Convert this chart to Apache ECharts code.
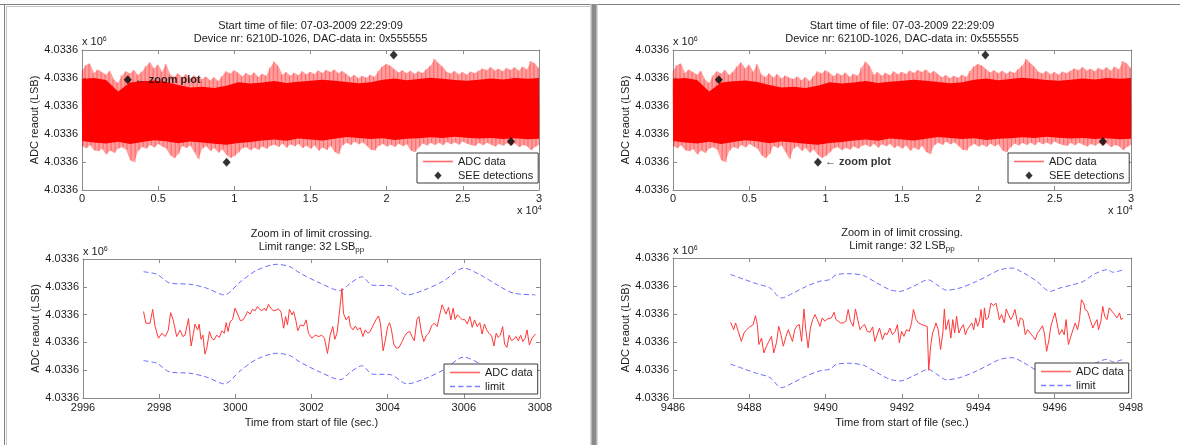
<!DOCTYPE html>
<html>
<head>
<meta charset="utf-8">
<script src="https://cdn.jsdelivr.net/npm/echarts@6/dist/echarts.min.js"></script>
<style>
  html, body { margin: 0; padding: 0; background: #ffffff; }
  #chart { width: 1180px; height: 445px; }
</style>
</head>
<body>
<div id="chart"></div>
<script>
// ---------------------------------------------------------------------------
// Data
// ---------------------------------------------------------------------------

// Length of the recorded file (s)
const OVERVIEW_SPAN = 30000;

// Peak-to-peak width of the limit band around the running mean (LSB)
const LIMIT_RANGE = 32;

// SEE detections: time (s) and ADC readout (LSB)
const seeTimes  = [3002.8, 9492.7, 20460, 28160];
const seeValues = [4033609.4, 4033579.9, 4033618.2, 4033587.3];

// Overview of the ADC readout, per equal-width time bin over the file:
// highest and lowest sample in each bin
const overviewHigh = [
  4033612.5, 4033614.6, 4033615.2, 4033611.8, 4033613.0, 4033612.1, 4033611.2, 4033612.6, 4033609.5, 4033608.2,
  4033611.0, 4033612.4, 4033611.6, 4033612.9, 4033611.1, 4033612.3, 4033614.2, 4033615.6, 4033613.4, 4033614.8,
  4033612.2, 4033615.1, 4033611.3, 4033610.4, 4033611.7, 4033610.2, 4033611.4, 4033609.8, 4033610.9, 4033610.1,
  4033609.6, 4033610.5, 4033609.2, 4033610.3, 4033608.9, 4033610.7, 4033612.4, 4033611.6, 4033612.8, 4033611.9,
  4033610.6, 4033611.8, 4033610.9, 4033612.0, 4033610.4, 4033611.5, 4033610.8, 4033613.8, 4033615.9, 4033614.3,
  4033611.2, 4033612.1, 4033610.8, 4033611.9, 4033611.0, 4033612.4, 4033611.3, 4033612.2, 4033611.4, 4033612.7,
  4033611.8, 4033612.9, 4033612.1, 4033613.0, 4033611.7, 4033612.5, 4033611.4, 4033610.3, 4033611.1, 4033609.9,
  4033610.8, 4033610.1, 4033611.2, 4033610.4, 4033612.6, 4033614.2, 4033615.0, 4033614.4, 4033613.1, 4033612.0,
  4033612.8, 4033611.7, 4033612.6, 4033611.5, 4033612.4, 4033611.8, 4033613.2, 4033614.5, 4033616.9, 4033615.3,
  4033614.0, 4033612.2, 4033611.6, 4033612.5, 4033611.3, 4033612.1, 4033611.2, 4033612.3, 4033611.7, 4033612.6,
  4033613.4, 4033612.8, 4033613.9, 4033612.7, 4033613.3, 4033612.4, 4033613.6, 4033612.9, 4033613.8, 4033612.6,
  4033614.1, 4033613.0, 4033616.1, 4033615.2, 4033613.5
];
const overviewLow = [
  4033585.7, 4033584.9, 4033586.0, 4033584.2, 4033583.8, 4033584.6, 4033582.7, 4033584.1, 4033583.2, 4033584.8,
  4033585.3, 4033584.4, 4033580.6, 4033579.9, 4033584.0, 4033585.4, 4033584.7, 4033586.1, 4033585.2, 4033586.4,
  4033585.5, 4033584.8, 4033582.4, 4033581.3, 4033582.8, 4033585.7, 4033585.0, 4033585.9, 4033583.5, 4033581.0,
  4033584.8, 4033585.6, 4033583.9, 4033585.0, 4033583.3, 4033584.5, 4033582.6, 4033581.4, 4033582.1, 4033583.4,
  4033584.9, 4033585.3, 4033584.2, 4033585.1, 4033584.4, 4033585.5, 4033584.7, 4033585.8, 4033586.2, 4033585.4,
  4033586.5, 4033585.1, 4033586.3, 4033585.6, 4033586.4, 4033585.0, 4033585.8, 4033584.7, 4033585.9, 4033584.0,
  4033585.2, 4033584.3, 4033585.7, 4033583.6, 4033582.8, 4033586.0, 4033586.9, 4033586.1, 4033587.2, 4033586.3,
  4033587.0, 4033585.8, 4033584.4, 4033584.1, 4033585.7, 4033586.4, 4033585.5, 4033586.2, 4033585.4, 4033586.5,
  4033585.6, 4033586.3, 4033584.1, 4033583.5, 4033585.2, 4033586.6, 4033585.9, 4033586.8, 4033586.1, 4033586.9,
  4033586.0, 4033587.1, 4033586.3, 4033587.0, 4033586.2, 4033587.3, 4033586.5, 4033586.1, 4033585.7, 4033586.8,
  4033586.0, 4033586.9, 4033586.2, 4033585.5, 4033586.4, 4033585.8, 4033586.7, 4033585.9, 4033586.6, 4033585.3,
  4033586.1, 4033585.6, 4033584.2, 4033585.4, 4033586.2
];

// Range that holds the bulk of the samples, per coarser equal-width bin
const coreHigh = [
  4033609.6, 4033610.0, 4033609.3, 4033605.2, 4033608.4, 4033608.8, 4033609.1, 4033608.6, 4033607.5, 4033606.6,
  4033606.9, 4033606.4, 4033607.2, 4033608.5, 4033608.0, 4033608.4, 4033608.9, 4033608.2, 4033608.7, 4033609.0,
  4033609.4, 4033609.0, 4033608.6, 4033608.1, 4033608.5, 4033609.4, 4033609.8, 4033609.2, 4033609.6, 4033610.1,
  4033609.7, 4033609.3, 4033609.0, 4033609.4, 4033609.8, 4033609.5, 4033610.0, 4033609.7, 4033609.9
];
const coreLow = [
  4033587.5, 4033587.0, 4033586.6, 4033587.2, 4033586.4, 4033587.1, 4033587.8, 4033587.4, 4033586.7, 4033587.3,
  4033587.0, 4033586.5, 4033586.2, 4033586.8, 4033587.1, 4033587.7, 4033588.0, 4033587.6, 4033588.4, 4033588.0,
  4033587.7, 4033588.3, 4033588.9, 4033588.6, 4033588.2, 4033588.5, 4033587.9, 4033588.3, 4033588.5, 4033588.8,
  4033588.6, 4033589.0, 4033588.7, 4033588.4, 4033588.6, 4033588.2, 4033588.5, 4033588.1, 4033588.3
];

// Zoom around the first detection: [time (s), ADC readout (LSB)]
const zoomA_adc = [
  [2997.59, 4033601.1], [2997.65, 4033596.9], [2997.76, 4033596.9], [2997.83, 4033601.9], [2997.89, 4033595.9],
  [2997.98, 4033591.5], [2998.07, 4033593.3], [2998.16, 4033592.1], [2998.24, 4033594.4], [2998.30, 4033600.7],
  [2998.37, 4033598.0], [2998.46, 4033592.1], [2998.55, 4033594.4], [2998.62, 4033592.1], [2998.68, 4033592.6],
  [2998.77, 4033598.6], [2998.84, 4033588.7], [2998.90, 4033593.3], [2998.94, 4033596.6], [2999.01, 4033594.5],
  [2999.05, 4033596.6], [2999.10, 4033591.1], [2999.15, 4033592.6], [2999.20, 4033585.8], [2999.25, 4033587.9],
  [2999.32, 4033593.9], [2999.38, 4033591.5], [2999.44, 4033590.9], [2999.51, 4033592.6], [2999.58, 4033591.8],
  [2999.65, 4033594.2], [2999.71, 4033593.3], [2999.76, 4033597.1], [2999.81, 4033593.9], [2999.86, 4033597.4],
  [2999.93, 4033598.3], [2999.99, 4033602.3], [3000.06, 4033600.2], [3000.13, 4033597.8], [3000.20, 4033598.1],
  [3000.26, 4033599.3], [3000.32, 4033601.1], [3000.39, 4033600.2], [3000.45, 4033601.9], [3000.52, 4033601.4],
  [3000.58, 4033602.9], [3000.64, 4033601.9], [3000.70, 4033601.4], [3000.76, 4033602.3], [3000.81, 4033601.4],
  [3000.87, 4033603.7], [3000.93, 4033602.3], [3001.00, 4033601.4], [3001.07, 4033601.6], [3001.13, 4033602.1],
  [3001.20, 4033600.9], [3001.27, 4033595.1], [3001.32, 4033599.3], [3001.37, 4033596.3], [3001.42, 4033601.9],
  [3001.49, 4033599.9], [3001.53, 4033601.1], [3001.59, 4033597.8], [3001.64, 4033594.2], [3001.71, 4033596.3],
  [3001.79, 4033595.9], [3001.86, 4033598.1], [3001.92, 4033593.3], [3002.01, 4033591.5], [3002.10, 4033592.6],
  [3002.19, 4033592.1], [3002.27, 4033592.6], [3002.34, 4033591.5], [3002.42, 4033586.0], [3002.49, 4033592.6],
  [3002.56, 4033595.7], [3002.61, 4033591.1], [3002.67, 4033593.3], [3002.74, 4033601.7], [3002.80, 4033609.4],
  [3002.84, 4033600.4], [3002.91, 4033598.1], [3002.98, 4033599.5], [3003.02, 4033595.7], [3003.09, 4033594.5],
  [3003.15, 4033595.9], [3003.21, 4033594.5], [3003.28, 4033595.3], [3003.35, 4033592.1], [3003.41, 4033594.5],
  [3003.48, 4033593.3], [3003.54, 4033593.9], [3003.61, 4033595.9], [3003.69, 4033598.1], [3003.76, 4033599.5],
  [3003.81, 4033596.9], [3003.88, 4033587.0], [3003.94, 4033590.9], [3004.00, 4033595.7], [3004.05, 4033597.1],
  [3004.10, 4033594.5], [3004.16, 4033589.4], [3004.23, 4033587.9], [3004.30, 4033588.2], [3004.38, 4033590.3],
  [3004.44, 4033592.1], [3004.51, 4033593.5], [3004.58, 4033593.9], [3004.64, 4033592.1], [3004.70, 4033590.6],
  [3004.77, 4033598.3], [3004.82, 4033599.3], [3004.89, 4033593.3], [3004.95, 4033590.3], [3005.02, 4033592.6],
  [3005.09, 4033593.5], [3005.15, 4033595.9], [3005.22, 4033596.9], [3005.30, 4033595.7], [3005.36, 4033599.5],
  [3005.43, 4033603.5], [3005.48, 4033601.9], [3005.53, 4033600.2], [3005.60, 4033602.6], [3005.66, 4033598.1],
  [3005.72, 4033602.3], [3005.77, 4033598.3], [3005.83, 4033599.9], [3005.90, 4033599.0], [3005.96, 4033598.1],
  [3006.02, 4033598.3], [3006.09, 4033596.6], [3006.16, 4033599.3], [3006.22, 4033595.4], [3006.28, 4033598.1],
  [3006.35, 4033595.7], [3006.42, 4033597.1], [3006.48, 4033593.0], [3006.54, 4033596.6], [3006.60, 4033594.5],
  [3006.66, 4033593.3], [3006.73, 4033592.3], [3006.79, 4033588.7], [3006.85, 4033593.3], [3006.90, 4033591.8],
  [3006.96, 4033592.6], [3007.02, 4033595.7], [3007.07, 4033589.4], [3007.13, 4033588.2], [3007.19, 4033592.6],
  [3007.25, 4033590.6], [3007.31, 4033591.1], [3007.37, 4033592.1], [3007.43, 4033590.6], [3007.49, 4033592.6],
  [3007.55, 4033590.3], [3007.61, 4033591.5], [3007.66, 4033594.5], [3007.72, 4033589.1], [3007.79, 4033591.5],
  [3007.88, 4033593.0]
];
// Running mean that the limit band is centred on: [time (s), LSB]
const zoomA_limitCenter = [
  [2997.59, 4033599.4], [2997.94, 4033598.5], [2998.29, 4033595.3], [2998.81, 4033594.9], [2999.25, 4033593.5],
  [2999.71, 4033591.1], [3000.13, 4033595.8], [3000.57, 4033600.0], [3001.09, 4033602.1], [3001.44, 4033601.2],
  [3001.70, 4033598.9], [3002.23, 4033595.3], [3002.76, 4033592.6], [3003.02, 4033595.3], [3003.33, 4033597.6],
  [3003.59, 4033594.6], [3004.07, 4033594.4], [3004.51, 4033591.1], [3004.95, 4033592.8], [3005.47, 4033596.1],
  [3006.00, 4033600.7], [3006.44, 4033598.2], [3006.96, 4033594.0], [3007.31, 4033591.7], [3007.88, 4033591.1]
];

// Zoom around the second detection
const zoomB_adc = [
  [9487.51, 4033597.0], [9487.59, 4033594.4], [9487.64, 4033596.8], [9487.71, 4033593.8], [9487.79, 4033590.2],
  [9487.86, 4033593.2], [9487.93, 4033594.4], [9488.01, 4033595.4], [9488.10, 4033596.2], [9488.16, 4033599.4],
  [9488.21, 4033596.2], [9488.25, 4033589.1], [9488.32, 4033591.4], [9488.38, 4033586.1], [9488.45, 4033588.5],
  [9488.51, 4033590.2], [9488.58, 4033592.0], [9488.64, 4033586.1], [9488.71, 4033589.7], [9488.77, 4033595.6],
  [9488.83, 4033592.6], [9488.89, 4033588.5], [9488.96, 4033592.0], [9489.02, 4033594.4], [9489.06, 4033595.0],
  [9489.13, 4033590.2], [9489.19, 4033594.4], [9489.25, 4033595.8], [9489.31, 4033596.2], [9489.37, 4033590.2],
  [9489.43, 4033601.8], [9489.48, 4033594.4], [9489.54, 4033587.9], [9489.60, 4033595.0], [9489.66, 4033598.0],
  [9489.72, 4033599.8], [9489.78, 4033598.0], [9489.85, 4033595.6], [9489.91, 4033598.6], [9489.98, 4033597.4],
  [9490.04, 4033598.2], [9490.09, 4033598.0], [9490.15, 4033598.6], [9490.22, 4033600.6], [9490.27, 4033598.0],
  [9490.33, 4033597.4], [9490.39, 4033596.8], [9490.46, 4033596.8], [9490.53, 4033597.4], [9490.59, 4033601.6],
  [9490.65, 4033597.4], [9490.72, 4033595.6], [9490.78, 4033601.8], [9490.84, 4033598.0], [9490.90, 4033594.4],
  [9490.96, 4033595.6], [9491.02, 4033596.2], [9491.09, 4033593.8], [9491.16, 4033593.5], [9491.23, 4033595.4],
  [9491.29, 4033590.2], [9491.35, 4033592.6], [9491.41, 4033595.0], [9491.49, 4033590.8], [9491.55, 4033593.2],
  [9491.61, 4033592.6], [9491.68, 4033595.0], [9491.75, 4033592.6], [9491.82, 4033593.8], [9491.88, 4033596.2],
  [9491.93, 4033589.7], [9491.99, 4033593.8], [9492.05, 4033592.0], [9492.12, 4033594.4], [9492.19, 4033593.8],
  [9492.25, 4033596.8], [9492.30, 4033601.6], [9492.37, 4033598.0], [9492.43, 4033596.8], [9492.52, 4033596.2],
  [9492.60, 4033595.8], [9492.66, 4033595.6], [9492.70, 4033579.9], [9492.75, 4033588.5], [9492.80, 4033593.2],
  [9492.85, 4033595.0], [9492.89, 4033596.8], [9492.95, 4033594.4], [9493.01, 4033587.3], [9493.07, 4033593.2],
  [9493.11, 4033601.8], [9493.15, 4033594.4], [9493.22, 4033598.0], [9493.28, 4033591.4], [9493.33, 4033598.0],
  [9493.38, 4033593.2], [9493.43, 4033599.2], [9493.49, 4033593.2], [9493.55, 4033595.0], [9493.61, 4033596.2],
  [9493.66, 4033592.6], [9493.71, 4033594.4], [9493.77, 4033595.6], [9493.83, 4033596.8], [9493.88, 4033594.4],
  [9493.93, 4033598.6], [9493.98, 4033595.6], [9494.03, 4033597.4], [9494.07, 4033601.6], [9494.12, 4033595.0],
  [9494.16, 4033602.2], [9494.20, 4033598.0], [9494.26, 4033598.6], [9494.33, 4033603.9], [9494.40, 4033603.0],
  [9494.46, 4033603.9], [9494.51, 4033601.0], [9494.55, 4033598.0], [9494.61, 4033599.8], [9494.68, 4033596.8],
  [9494.73, 4033601.8], [9494.79, 4033599.8], [9494.85, 4033598.0], [9494.90, 4033599.2], [9494.96, 4033601.6],
  [9495.01, 4033598.0], [9495.05, 4033595.6], [9495.10, 4033598.6], [9495.17, 4033598.0], [9495.23, 4033592.6],
  [9495.29, 4033594.4], [9495.36, 4033593.2], [9495.43, 4033592.0], [9495.49, 4033590.8], [9495.55, 4033593.2],
  [9495.62, 4033594.4], [9495.68, 4033595.8], [9495.73, 4033593.2], [9495.79, 4033586.7], [9495.85, 4033590.8],
  [9495.90, 4033595.6], [9495.95, 4033598.0], [9496.01, 4033600.4], [9496.06, 4033596.8], [9496.12, 4033592.6],
  [9496.19, 4033594.4], [9496.25, 4033592.6], [9496.30, 4033598.0], [9496.36, 4033589.1], [9496.41, 4033591.4],
  [9496.48, 4033594.4], [9496.54, 4033596.8], [9496.60, 4033594.4], [9496.65, 4033598.0], [9496.70, 4033605.1],
  [9496.76, 4033603.9], [9496.80, 4033601.6], [9496.86, 4033601.0], [9496.93, 4033598.0], [9497.00, 4033595.0],
  [9497.06, 4033596.8], [9497.11, 4033598.0], [9497.15, 4033594.4], [9497.21, 4033597.4], [9497.26, 4033602.7],
  [9497.31, 4033599.2], [9497.37, 4033598.0], [9497.43, 4033602.2], [9497.50, 4033601.0], [9497.57, 4033599.8],
  [9497.63, 4033598.6], [9497.70, 4033600.4], [9497.74, 4033598.0], [9497.79, 4033598.6]
];
const zoomB_limitCenter = [
  [9487.51, 4033598.1], [9487.88, 4033596.3], [9488.19, 4033594.8], [9488.54, 4033593.3], [9488.84, 4033589.7],
  [9489.15, 4033591.5], [9489.50, 4033593.9], [9489.85, 4033595.7], [9490.11, 4033596.3], [9490.29, 4033598.1],
  [9490.64, 4033598.4], [9490.99, 4033597.7], [9491.34, 4033595.1], [9491.68, 4033592.7], [9491.95, 4033592.1],
  [9492.30, 4033593.9], [9492.69, 4033596.2], [9492.91, 4033594.5], [9493.17, 4033592.5], [9493.52, 4033593.3],
  [9493.96, 4033595.7], [9494.31, 4033598.1], [9494.57, 4033599.8], [9494.88, 4033600.4], [9495.18, 4033598.7],
  [9495.53, 4033595.7], [9495.88, 4033592.1], [9496.14, 4033593.3], [9496.49, 4033594.5], [9496.76, 4033595.7],
  [9497.02, 4033598.1], [9497.37, 4033599.8], [9497.54, 4033598.9], [9497.79, 4033599.8]
];

// Axis ranges and tick steps
const adcAxis      = { min: 4033570, max: 4033620, interval: 10 };
const overviewAxis = { min: 0, max: OVERVIEW_SPAN, interval: 5000 };
const zoomAAxis    = { min: 2996, max: 3008, interval: 2 };
const zoomBAxis    = { min: 9486, max: 9498, interval: 2 };

// Text
const headerLines = ['Start time of file: 07-03-2009 22:29:09', 'Device nr: 6210D-1026, DAC-data in: 0x555555'];
const zoomTitle   = 'Zoom in of limit crossing.';
const limitTitle  = 'Limit range: 32 LSB';
const yAxisName   = 'ADC reaout (LSB)';
const xAxisName   = 'Time from start of file (sec.)';

// ---------------------------------------------------------------------------
// Styling
// ---------------------------------------------------------------------------
const FONT = '"Liberation Sans", Arial, Helvetica, sans-serif';
const TEXT = '#1c1c1c';
const AXIS = '#8a8a8a';
const RED = '#ff0000';
const ZOOM_RED = '#ff3838';
const LIMIT_BLUE = '#6c6cff';

// Plot rectangles: overview left, zoom left, overview right, zoom right
const grids = [
  { left: 82,  top: 50,  width: 457, height: 140 },
  { left: 83,  top: 259, width: 457, height: 139 },
  { left: 673, top: 50,  width: 458, height: 140 },
  { left: 673, top: 258, width: 458, height: 140 }
];

const adcTick = v => (v / 1e6).toFixed(4);
const overviewTick = v => String(v / 10000);
const plainTick = v => String(v);

function xAxes(g, range, fmt, name, labelMargin) {
  const base = {
    type: 'value', gridIndex: g, min: range.min, max: range.max, interval: range.interval,
    splitLine: { show: false },
    axisLine: { show: true, onZero: false, lineStyle: { color: AXIS, width: 1 } },
    axisTick: { show: true, inside: true, length: 4, lineStyle: { color: AXIS } }
  };
  return [
    Object.assign({}, base, {
      position: 'bottom',
      axisLabel: { formatter: fmt, margin: labelMargin, color: TEXT, fontSize: 11, fontFamily: FONT,
                   showMinLabel: true, showMaxLabel: true },
      name: name || '', nameLocation: 'middle', nameGap: 19,
      nameTextStyle: { color: TEXT, fontSize: 11, fontFamily: FONT }
    }),
    Object.assign({}, base, { position: 'top', axisLabel: { show: false } })
  ];
}

function yAxes(g) {
  const base = {
    type: 'value', gridIndex: g, min: adcAxis.min, max: adcAxis.max, interval: adcAxis.interval,
    splitLine: { show: false },
    axisLine: { show: true, onZero: false, lineStyle: { color: AXIS, width: 1 } },
    axisTick: { show: true, inside: true, length: 4, lineStyle: { color: AXIS } }
  };
  return [
    Object.assign({}, base, {
      position: 'left',
      axisLabel: { formatter: adcTick, margin: 4, color: TEXT, fontSize: 11, fontFamily: FONT,
                   showMinLabel: true, showMaxLabel: true },
      name: yAxisName, nameLocation: 'middle', nameRotate: 90, nameGap: 34,
      nameTextStyle: { color: TEXT, fontSize: 11, fontFamily: FONT }
    }),
    Object.assign({}, base, { position: 'right', axisLabel: { show: false } })
  ];
}

// Overview: per-bin extremes, plus one stroke per bin running from its high to its low
const highBin = OVERVIEW_SPAN / (overviewHigh.length - 1);
const haloData = overviewHigh.map((h, i) => [i * highBin, h, overviewLow[i]]);
const overviewStrokes = [];
haloData.forEach(d => {
  overviewStrokes.push([d[0] - highBin / 4, d[1]], [d[0] + highBin / 4, d[2]]);
});
const coreBin = OVERVIEW_SPAN / (coreHigh.length - 1);
const coreData = coreHigh.map((h, j) => [j * coreBin, h, coreLow[j]]);

// One polygon per band: upper edge left to right, lower edge back
function bandRenderer(rows, fill) {
  return function (params, api) {
    if (params.dataIndex !== 0) return null;
    const pts = [];
    rows.forEach(r => pts.push(api.coord([r[0], r[1]])));
    for (let k = rows.length - 1; k >= 0; k--) pts.push(api.coord([rows[k][0], rows[k][2]]));
    return { type: 'polygon', shape: { points: pts }, style: { fill: fill } };
  };
}

function overviewSeries(axisIdx, labelledSee) {
  return [
    { type: 'custom', xAxisIndex: axisIdx, yAxisIndex: axisIdx, data: haloData,
      encode: { x: 0, y: [1, 2] }, renderItem: bandRenderer(haloData, 'rgba(255,0,0,0.38)'),
      silent: true, z: 1 },
    { type: 'line', name: 'ADC data', xAxisIndex: axisIdx, yAxisIndex: axisIdx,
      data: overviewStrokes, symbol: 'none', silent: true, z: 2,
      lineStyle: { color: RED, width: 1, opacity: 0.2 } },
    { type: 'custom', xAxisIndex: axisIdx, yAxisIndex: axisIdx, data: coreData,
      encode: { x: 0, y: [1, 2] }, renderItem: bandRenderer(coreData, RED), silent: true, z: 3 },
    { type: 'scatter', name: 'SEE detections', xAxisIndex: axisIdx, yAxisIndex: axisIdx,
      symbol: 'diamond', symbolSize: [8, 9], symbolKeepAspect: true,
      itemStyle: { color: '#000000' }, z: 5,
      label: { show: false, formatter: '\u2190 zoom plot', position: 'right', distance: 3,
               color: '#000000', fontSize: 11, fontWeight: 'bold', fontFamily: FONT },
      data: seeTimes.map((t, k) => ({ value: [t, seeValues[k]], label: { show: k === labelledSee } })) }
  ];
}

function zoomSeries(axisIdx, adc, center) {
  const upper = center.map(p => [p[0], p[1] + LIMIT_RANGE / 2]);
  const lower = center.map(p => [p[0], p[1] - LIMIT_RANGE / 2]);
  const limitStyle = { color: LIMIT_BLUE, width: 1, type: [5, 3] };
  return [
    { type: 'line', name: 'ADC data', xAxisIndex: axisIdx, yAxisIndex: axisIdx, data: adc,
      symbol: 'none', z: 3, lineStyle: { color: ZOOM_RED, width: 1 } },
    { type: 'line', name: 'limit', xAxisIndex: axisIdx, yAxisIndex: axisIdx, data: upper,
      symbol: 'none', smooth: 0.3, z: 2, lineStyle: limitStyle, itemStyle: { color: LIMIT_BLUE } },
    { type: 'line', name: 'limit', xAxisIndex: axisIdx, yAxisIndex: axisIdx, data: lower,
      symbol: 'none', smooth: 0.3, z: 2, lineStyle: limitStyle, itemStyle: { color: LIMIT_BLUE } }
  ];
}

// Legend keys: a solid stroke, a dashed stroke and a diamond
const KEY_SOLID  = 'path://M0,0 L30,0 L30,1.6 L0,1.6 Z';
const KEY_DASHED = 'path://M0,0 L5,0 L5,1.6 L0,1.6 Z M8,0 L13,0 L13,1.6 L8,1.6 Z ' +
                   'M16,0 L21,0 L21,1.6 L16,1.6 Z M24,0 L29,0 L29,1.6 L24,1.6 Z';
const KEY_DIAMOND = 'path://M4,0 L8,4.5 L4,9 L0,4.5 Z';

function legendBox(left, top, names) {
  const items = {
    'ADC data': { name: 'ADC data', icon: KEY_SOLID, itemStyle: { color: '#ff6a6a' } },
    'SEE detections': { name: 'SEE detections', icon: KEY_DIAMOND, itemStyle: { color: '#000000' } },
    'limit': { name: 'limit', icon: KEY_DASHED, itemStyle: { color: '#7c7cff' } }
  };
  return {
    orient: 'vertical', left: left, top: top, data: names.map(n => items[n]),
    itemWidth: 30, itemHeight: 8, itemGap: 3, padding: [3, 5, 2, 6],
    symbolKeepAspect: true,
    borderColor: '#3a3a3a', borderWidth: 1, backgroundColor: '#ffffff',
    selectedMode: false,
    textStyle: { color: TEXT, fontSize: 11, fontFamily: FONT }
  };
}

function titleBlock(centerX, top, text, rich) {
  return {
    text: text, left: centerX, top: top, textAlign: 'center', padding: 0, itemGap: 0,
    textStyle: { color: TEXT, fontSize: 11, fontWeight: 'normal', fontFamily: FONT,
                 lineHeight: 12.5, rich: rich || {} }
  };
}

const subRich = {
  m: { color: TEXT, fontSize: 11, fontFamily: FONT, lineHeight: 13 },
  s: { color: TEXT, fontSize: 8, fontFamily: FONT, lineHeight: 7, verticalAlign: 'bottom' }
};
const zoomHeader = zoomTitle + '\n{m|' + limitTitle + '}{s|pp}';

function exponentText(x, y, power) {
  return {
    type: 'text', x: x, y: y, silent: true,
    style: {
      text: '{a|x 10}{b|' + power + '}', fill: TEXT, verticalAlign: 'middle',
      rich: {
        a: { fontSize: 11, fontFamily: FONT, fill: TEXT, lineHeight: 12 },
        b: { fontSize: 7, fontFamily: FONT, fill: TEXT, lineHeight: 7, verticalAlign: 'top' }
      }
    }
  };
}

const xAxisList = [].concat(
  xAxes(0, overviewAxis, overviewTick, '', 3),
  xAxes(1, zoomAAxis, plainTick, xAxisName, 4),
  xAxes(2, overviewAxis, overviewTick, '', 3),
  xAxes(3, zoomBAxis, plainTick, xAxisName, 4)
);
const yAxisList = [].concat(yAxes(0), yAxes(1), yAxes(2), yAxes(3));

const option = {
  animation: false,
  backgroundColor: '#ffffff',
  grid: grids.map(g => Object.assign({ containLabel: false, outerBoundsMode: 'none' }, g)),
  xAxis: xAxisList,
  yAxis: yAxisList,
  title: [
    titleBlock(310.5, 20, headerLines.join('\n')),
    titleBlock(902, 20, headerLines.join('\n')),
    titleBlock(311.5, 228, zoomHeader, subRich),
    titleBlock(902, 227, zoomHeader, subRich)
  ],
  legend: [
    legendBox(417, 153, ['ADC data', 'SEE detections']),
    legendBox(1008, 153, ['ADC data', 'SEE detections']),
    legendBox(444, 364, ['ADC data', 'limit']),
    legendBox(1035, 363, ['ADC data', 'limit'])
  ],
  series: [].concat(
    overviewSeries(0, 0),
    zoomSeries(2, zoomA_adc, zoomA_limitCenter),
    overviewSeries(4, 1),
    zoomSeries(6, zoomB_adc, zoomB_limitCenter)
  ),
  graphic: [
    // page frame
    { type: 'line', silent: true, shape: { x1: 0, y1: 4.5, x2: 1180, y2: 4.5 }, style: { stroke: '#808080', lineWidth: 1 } },
    { type: 'line', silent: true, shape: { x1: 6, y1: 6.5, x2: 590, y2: 6.5 }, style: { stroke: '#c4c4c4', lineWidth: 1 } },
    { type: 'line', silent: true, shape: { x1: 4.5, y1: 4, x2: 4.5, y2: 445 }, style: { stroke: '#808080', lineWidth: 1 } },
    { type: 'line', silent: true, shape: { x1: 6.5, y1: 6, x2: 6.5, y2: 445 }, style: { stroke: '#c4c4c4', lineWidth: 1 } },
    { type: 'rect', silent: true, shape: { x: 590.5, y: 4, width: 7, height: 441 }, style: { fill: '#b4b4b4' } },
    { type: 'rect', silent: true, shape: { x: 592, y: 4, width: 4, height: 441 }, style: { fill: '#8a8a8a' } },
    // axis multipliers
    exponentText(82, 42, '6'),
    exponentText(673, 42, '6'),
    exponentText(83, 252, '6'),
    exponentText(673, 251, '6'),
    exponentText(517, 211, '4'),
    exponentText(1108, 211, '4')
  ]
};

const chart = echarts.init(document.getElementById('chart'), null, { renderer: 'canvas' });
chart.setOption(option);
</script>
</body>
</html>
